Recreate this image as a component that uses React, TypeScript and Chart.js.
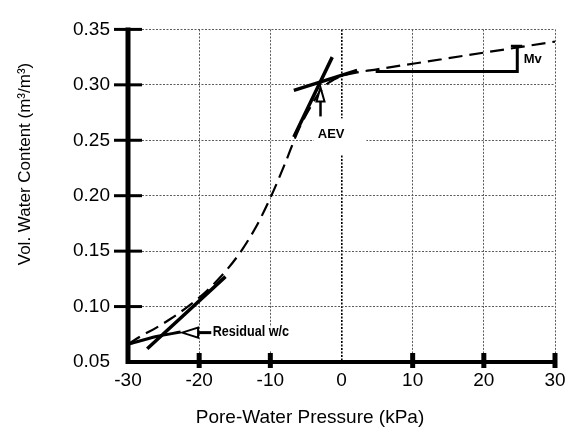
import { useEffect, useRef } from 'react';
import { Chart, registerables } from 'chart.js';

Chart.register(...registerables);

// Soil-water characteristic curve (pressure in kPa, volumetric water content)
const swccPressure = [-30, -28, -26, -24, -22, -20, -18, -16, -14, -12, -10, -8, -6, -4, -3, -2, -1, 0, 2, 5, 10, 15, 20, 25, 30];
const swccContent = [0.066, 0.074, 0.081, 0.089, 0.098, 0.108, 0.12, 0.134, 0.151, 0.172, 0.198, 0.228, 0.26, 0.284, 0.294, 0.301, 0.305, 0.308, 0.311, 0.314, 0.319, 0.324, 0.329, 0.334, 0.339];

// Construction lines
const aevTangentX = [-6.7, -1.3];
const aevTangentY = [0.253, 0.325];
const saturatedX = [-6.7, 2.2];
const saturatedY = [0.295, 0.313];
const residualTangentX = [-27.3, -16.3];
const residualTangentY = [0.062, 0.127];
const residualLimbX = [-30, -26, -22.6];
const residualLimbY = [0.066, 0.073, 0.077];
const mvBracketX = [4.8, 24.7, 24.7];
const mvBracketY = [0.312, 0.312, 0.335];
const mvCapX = [23.8, 25.4];
const mvCapY = [0.335, 0.335];

// Axis ticks
const xTicks = [-30, -20, -10, 0, 10, 20, 30];
const yTicks = [0.05, 0.1, 0.15, 0.2, 0.25, 0.3, 0.35];
const xMarked = [-20, -10, 10, 20, 30];
const yMarked = [0.1, 0.15, 0.2, 0.25, 0.3, 0.35];

// Annotation anchors (data units)
const aevValue = -2.95;
const aevArrowY = [0.2715, 0.2977];
const aevLabel = { x: -1.45, y: 0.255, text: 'AEV' };
const aevBox = { x0: -3.9, x1: 3.5, y0: 0.2698, y1: 0.2367 };
const residualArrowX = [-18.3, -22.4];
const residualArrowY = 0.0765;
const residualLabel = { x: -18.1, y: 0.077, text: 'Residual w/c' };
const residualBox = { x0: -18.3, x1: -6.5, y0: 0.0815, y1: 0.0605 };
const mvLabel = { x: 25.6, y: 0.323, text: 'Mv' };

const xTitle = 'Pore-Water Pressure (kPa)';
const yTitle = 'Vol. Water Content (m³/m³)';

const pts = (xs: number[], ys: number[]) => xs.map((x, i) => ({ x, y: ys[i] }));

const FONT = '"Liberation Sans", Arial, sans-serif';

const solid = (xs: number[], ys: number[], width = 3.5) => ({
  data: pts(xs, ys),
  borderColor: '#000',
  borderWidth: width,
  pointRadius: 0,
  fill: false,
  tension: 0.3,
  borderCapStyle: 'butt' as const,
});

const decorPlugin = {
  id: 'decor',
  beforeDatasetsDraw(chart: any) {
    const { ctx, scales, chartArea } = chart;
    const x = scales.x;
    const y = scales.y;
    ctx.save();
    ctx.fillStyle = '#fff';
    for (const b of [aevBox, residualBox]) {
      const px0 = x.getPixelForValue(b.x0);
      const px1 = x.getPixelForValue(b.x1);
      const py0 = y.getPixelForValue(b.y0);
      const py1 = y.getPixelForValue(b.y1);
      ctx.fillRect(px0, py0, px1 - px0, py1 - py0);
    }
    // heavy solid axes
    ctx.strokeStyle = '#000';
    ctx.setLineDash([]);
    ctx.lineWidth = 5;
    ctx.beginPath();
    ctx.moveTo(chartArea.left, chartArea.top - 2);
    ctx.lineTo(chartArea.left, chartArea.bottom + 2);
    ctx.stroke();
    ctx.lineWidth = 4;
    ctx.beginPath();
    ctx.moveTo(chartArea.left - 2, chartArea.bottom);
    ctx.lineTo(chartArea.right + 2, chartArea.bottom);
    ctx.stroke();
    ctx.restore();
  },
  afterDraw(chart: any) {
    const { ctx, scales, chartArea } = chart;
    const x = scales.x;
    const y = scales.y;
    ctx.save();
    ctx.strokeStyle = '#000';
    ctx.lineCap = 'butt';

    // heavy tick marks
    ctx.lineWidth = 3;
    for (const v of yMarked) {
      const py = y.getPixelForValue(v);
      ctx.beginPath();
      ctx.moveTo(chartArea.left - 14, py);
      ctx.lineTo(chartArea.left + 14, py);
      ctx.stroke();
    }
    ctx.lineWidth = 5;
    for (const v of xMarked) {
      const px = x.getPixelForValue(v);
      ctx.beginPath();
      ctx.moveTo(px, chartArea.bottom - 9);
      ctx.lineTo(px, chartArea.bottom + 6);
      ctx.stroke();
    }

    // AEV arrow (hollow head pointing up)
    const ax = x.getPixelForValue(aevValue);
    const aTail = y.getPixelForValue(aevArrowY[0]);
    const aTip = y.getPixelForValue(aevArrowY[1]);
    ctx.lineWidth = 2.5;
    ctx.beginPath();
    ctx.moveTo(ax, aTail);
    ctx.lineTo(ax, aTip + 14);
    ctx.stroke();
    ctx.lineWidth = 2;
    ctx.fillStyle = '#fff';
    ctx.beginPath();
    ctx.moveTo(ax, aTip);
    ctx.lineTo(ax - 4, aTip + 14);
    ctx.lineTo(ax + 4, aTip + 14);
    ctx.closePath();
    ctx.fill();
    ctx.stroke();

    // Residual arrow (hollow head pointing left)
    const rTail = x.getPixelForValue(residualArrowX[0]);
    const rTip = x.getPixelForValue(residualArrowX[1]);
    const ry = y.getPixelForValue(residualArrowY);
    ctx.lineWidth = 3;
    ctx.beginPath();
    ctx.moveTo(rTail, ry);
    ctx.lineTo(rTip + 16, ry);
    ctx.stroke();
    ctx.lineWidth = 2;
    ctx.beginPath();
    ctx.moveTo(rTip, ry);
    ctx.lineTo(rTip + 16, ry - 5);
    ctx.lineTo(rTip + 16, ry + 5);
    ctx.closePath();
    ctx.fill();
    ctx.stroke();

    // labels
    ctx.fillStyle = '#000';
    ctx.textBaseline = 'middle';
    ctx.font = `bold 13px ${FONT}`;
    ctx.textAlign = 'center';
    ctx.fillText(aevLabel.text, x.getPixelForValue(aevLabel.x), y.getPixelForValue(aevLabel.y));
    ctx.textAlign = 'left';
    ctx.fillText(mvLabel.text, x.getPixelForValue(mvLabel.x), y.getPixelForValue(mvLabel.y));
    ctx.save();
    ctx.translate(x.getPixelForValue(residualLabel.x), y.getPixelForValue(residualLabel.y));
    ctx.scale(0.9, 1);
    ctx.font = `bold 14px ${FONT}`;
    ctx.fillText(residualLabel.text, 0, 0);
    ctx.restore();

    // axis titles
    ctx.font = `19px ${FONT}`;
    ctx.textAlign = 'center';
    ctx.fillText(xTitle, 310, 418);
    ctx.save();
    ctx.translate(25, 164);
    ctx.rotate(-Math.PI / 2);
    ctx.font = `17px ${FONT}`;
    ctx.fillText(yTitle, 0, 0);
    ctx.restore();

    ctx.restore();
  },
};

export default function App() {
  const ref = useRef<HTMLCanvasElement | null>(null);

  useEffect(() => {
    document.body.style.margin = '0';
    const canvas = ref.current;
    if (!canvas) return;
    const chart = new Chart(canvas, {
      type: 'line',
      data: {
        datasets: [
          {
            data: pts(swccPressure, swccContent),
            borderColor: '#000',
            borderWidth: 2.2,
            borderDash: [14, 7],
            pointRadius: 0,
            fill: false,
            cubicInterpolationMode: 'monotone',
          },
          solid(aevTangentX, aevTangentY),
          solid(saturatedX, saturatedY),
          solid(residualTangentX, residualTangentY),
          solid(residualLimbX, residualLimbY, 3),
          { ...solid(mvBracketX, mvBracketY, 3), tension: 0 },
          { ...solid(mvCapX, mvCapY, 2.5), tension: 0 },
        ] as any,
      },
      options: {
        responsive: false,
        animation: false,
        events: [],
        layout: { padding: { top: 20, right: 19, left: 0, bottom: 0 } },
        plugins: { legend: { display: false }, tooltip: { enabled: false } },
        scales: {
          x: {
            type: 'linear',
            min: -30,
            max: 30,
            afterFit: (s: any) => { s.height = 66; },
            afterBuildTicks: (s: any) => { s.ticks = xTicks.map((value) => ({ value })); },
            ticks: {
              color: '#000',
              font: { family: FONT, size: 19 },
              padding: 7,
              maxRotation: 0,
              callback: (v: any) => String(v),
            },
            grid: {
              drawTicks: false,
              color: (c: any) => (c.tick && c.tick.value === 0 ? '#000' : '#5a5a5a'),
              lineWidth: (c: any) => (c.tick && c.tick.value === 0 ? 1.6 : 1),
            },
            border: { display: false, dash: [2, 1.5] },
          },
          y: {
            type: 'linear',
            min: 0.05,
            max: 0.35,
            afterFit: (s: any) => { s.width = 128; },
            afterBuildTicks: (s: any) => { s.ticks = yTicks.map((value) => ({ value })); },
            ticks: {
              color: '#000',
              font: { family: FONT, size: 19 },
              padding: 18,
              callback: (v: any) => Number(v).toFixed(2),
            },
            grid: { drawTicks: false, color: '#5a5a5a', lineWidth: 1 },
            border: { display: false, dash: [2, 1.5] },
          },
        },
      },
      plugins: [decorPlugin],
    });
    return () => chart.destroy();
  }, []);

  return <canvas ref={ref} width={574} height={428} style={{ display: 'block' }} />;
}
